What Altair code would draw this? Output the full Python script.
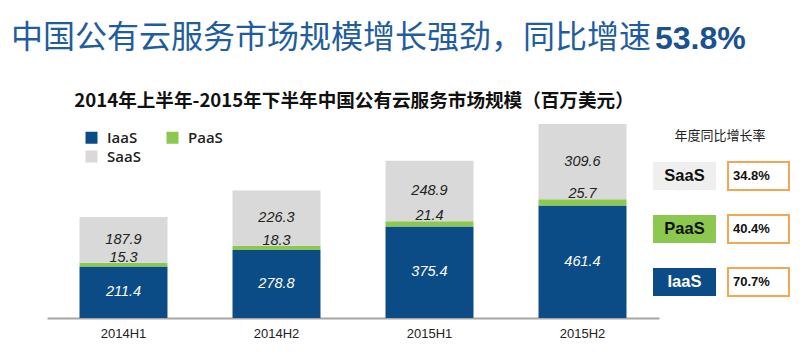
import altair as alt
import pandas as pd

# ---- data ----
periods = ["2014H1", "2014H2", "2015H1", "2015H2"]
types = ["IaaS", "PaaS", "SaaS"]
iaas = [211.4, 278.8, 375.4, 461.4]
paas = [15.3, 18.3, 21.4, 25.7]
saas = [187.9, 226.3, 248.9, 309.6]

growth_cats = ["SaaS", "PaaS", "IaaS"]
growth_vals = [34.8, 40.4, 70.7]

main_title = "中国公有云服务市场规模增长强劲，同比增速"
main_title_num = "53.8%"
sub_title = "2014年上半年-2015年下半年中国公有云服务市场规模（百万美元）"
panel_title = "年度同比增长率"

# ---- styling ----
C_IAAS = "#0c4c86"
C_PAAS = "#8cc850"
C_SAAS = "#d9d9d9"
C_TITLE = "#1f5d9e"

rows = []
for i, p in enumerate(periods):
    for k, (t, vals) in enumerate(zip(types, [iaas, paas, saas])):
        rows.append({"period": p, "type": t, "value": vals[i], "ord": k})
df = pd.DataFrame(rows)

gdf = pd.DataFrame({"cat": growth_cats, "growth": growth_vals})

base = alt.Chart(df).transform_stack(
    stack="value", groupby=["period"], as_=["y0", "y1"],
    sort=[alt.SortField("ord", order="ascending")]
).transform_calculate(mid="(datum.y0 + datum.y1) / 2")

xenc = alt.X("period:N", sort=periods,
             scale=alt.Scale(range=[39, 651], paddingInner=0.425, paddingOuter=0.2125),
             axis=alt.Axis(title=None, labelAngle=0, ticks=False, domainColor="#a6a6a6",
                           domainWidth=2, labelFont="Liberation Sans", labelFontSize=13,
                           labelColor="#222222", labelPadding=9, grid=False))
yscale = alt.Scale(domain=[0, 1272.6], nice=False, zero=True)

legend_order = ["IaaS", "SaaS", "PaaS"]  # column-major legend layout -> IaaS, PaaS / SaaS
color_map = {"IaaS": C_IAAS, "PaaS": C_PAAS, "SaaS": C_SAAS}

bars = base.mark_bar().encode(
    x=xenc,
    y=alt.Y("y0:Q", scale=yscale, axis=None),
    y2="y1:Q",
    color=alt.Color("type:N",
                    scale=alt.Scale(domain=legend_order, range=[color_map[t] for t in legend_order]),
                    legend=alt.Legend(title=None, orient="none", legendX=76, legendY=122,
                                      columns=2, columnPadding=24, rowPadding=3,
                                      symbolType="square", symbolSize=144, symbolStrokeWidth=0,
                                      labelFont="Open Sans", labelFontWeight=600,
                                      labelFontSize=15, labelColor="#222222", labelOffset=8,
                                      padding=0)),
)

lab_font = dict(font="Liberation Sans", fontSize=14.5, fontStyle="italic")
lab_iaas = base.transform_filter("datum.type == 'IaaS'").mark_text(
    color="white", baseline="middle", **lab_font).encode(
    x=alt.X("period:N", sort=periods), y=alt.Y("mid:Q", scale=yscale, axis=None),
    text=alt.Text("value:Q", format=".1f"))
lab_saas = base.transform_filter("datum.type == 'SaaS'").mark_text(
    color="#222222", baseline="middle", **lab_font).encode(
    x=alt.X("period:N", sort=periods), y=alt.Y("mid:Q", scale=yscale, axis=None),
    text=alt.Text("value:Q", format=".1f"))
lab_paas = base.transform_filter("datum.type == 'PaaS'").mark_text(
    color="#222222", baseline="alphabetic", dy=-1, **lab_font).encode(
    x=alt.X("period:N", sort=periods), y=alt.Y("y1:Q", scale=yscale, axis=None),
    text=alt.Text("value:Q", format=".1f"))

# ---- titles ----
tdf = pd.DataFrame({"t": [main_title], "n": [main_title_num], "s": [sub_title], "p": [panel_title]})
t_main = alt.Chart(tdf).mark_text(align="left", baseline="middle", font="Noto Sans CJK SC",
                                  fontSize=32, color=C_TITLE).encode(
    x=alt.value(3), y=alt.value(30), text="t:N")
t_num = alt.Chart(tdf).mark_text(align="left", baseline="middle", font="Liberation Sans",
                                 fontWeight="bold", fontSize=32, color="#1a528f").encode(
    x=alt.value(647), y=alt.value(31), text="n:N")
t_sub = alt.Chart(tdf).mark_text(align="center", baseline="middle", font="Noto Sans CJK SC",
                                 fontWeight="bold", fontSize=18.6, color="#111111").encode(
    x=alt.value(346), y=alt.value(93), text="s:N")
t_panel = alt.Chart(tdf).mark_text(align="center", baseline="middle", font="Noto Sans CJK SC",
                                   fontSize=13, color="#222222").encode(
    x=alt.value(712), y=alt.value(128), text="p:N")

# ---- growth panel ----
gy = alt.Y("cat:N", sort=growth_cats, bandPosition=0.5,
           scale=alt.Scale(type="band", domain=growth_cats, range=[154, 288],
                           paddingInner=0.472, paddingOuter=0),
           axis=None)
gy_rect = alt.Y("cat:N", sort=growth_cats,
                scale=alt.Scale(type="band", domain=growth_cats, range=[154, 288],
                                paddingInner=0.472, paddingOuter=0),
                axis=None)
gbase = alt.Chart(gdf).transform_calculate(lbl="format(datum.growth, '.1f') + '%'")
g_box = gbase.mark_rect().encode(
    y=gy_rect, x=alt.value(645), x2=alt.value(708),
    color=alt.Color("cat:N", scale=alt.Scale(domain=growth_cats, range=["#efefef", C_PAAS, C_IAAS]),
                    legend=None))
g_val_box = gbase.mark_rect(fill="white", stroke="#f5a652", strokeWidth=2).encode(
    y=gy_rect, x=alt.value(720), x2=alt.value(781))
g_name_dark = gbase.transform_filter("datum.cat != 'IaaS'").mark_text(
    font="Liberation Sans", fontWeight="bold", fontSize=16.5, color="#111111", baseline="middle").encode(
    y=gy, x=alt.value(676.5), text="cat:N")
g_name_light = gbase.transform_filter("datum.cat == 'IaaS'").mark_text(
    font="Liberation Sans", fontWeight="bold", fontSize=16.5, color="white", baseline="middle").encode(
    y=gy, x=alt.value(676.5), text="cat:N")
g_val = gbase.mark_text(font="Liberation Sans", fontWeight="bold", fontSize=13, color="#111111",
                        align="left", baseline="middle").encode(
    y=gy, x=alt.value(725), text="lbl:N")

chart = alt.layer(
    bars, lab_iaas, lab_saas, lab_paas,
    t_main, t_num, t_sub, t_panel,
    g_box, g_val_box, g_name_dark, g_name_light, g_val,
).resolve_scale(y="independent", color="independent").properties(
    width=784, height=310,
    background="white",
    autosize=alt.AutoSizeParams(type="none"),
    padding={"top": 0, "left": 0, "right": 0, "bottom": 32},
).configure_view(stroke=None, strokeWidth=0)

chart.save("out.html", embed_options={"renderer": "svg", "actions": False})
